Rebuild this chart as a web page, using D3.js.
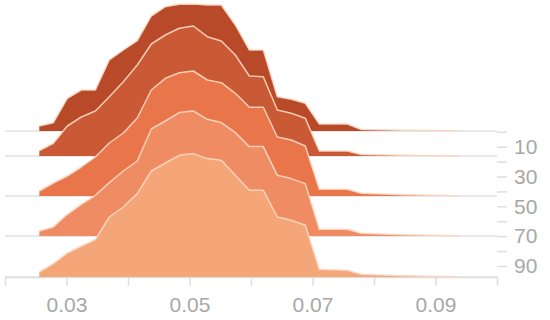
<!DOCTYPE html>
<html>
<head>
<meta charset="utf-8">
<script src="https://cdn.jsdelivr.net/npm/d3@7"></script>
<style>
  html, body { margin: 0; padding: 0; background: #fff; }
  svg { display: block; }
  .axis text { font-family: "Liberation Sans", Arial, Helvetica, sans-serif; font-size: 21px; fill: #a8a8a8; }
  .axis line, .axis path { stroke: #dedede; stroke-width: 1.5px; }
</style>
</head>
<body>
<svg id="chart" width="550" height="320"></svg>
<script>
// ---- data ----
const seriesKeys = ["10", "30", "50", "70", "90"];
const xValues = [0.02558, 0.02786, 0.03013, 0.03241, 0.03469, 0.03696, 0.03924, 0.04151,
  0.04379, 0.04607, 0.04834, 0.05062, 0.05290, 0.05517, 0.05745, 0.05973, 0.06200,
  0.06428, 0.06655, 0.06883, 0.07111, 0.07338, 0.07566, 0.07794, 0.08021, 0.08249,
  0.08476, 0.08704, 0.08932, 0.09159, 0.09387];
const density10 = [0.50, 0.83, 3.27, 4.10, 4.10, 7.10, 8.10, 9.03, 11.50, 12.43, 12.67, 12.70, 12.60, 12.60, 10.60, 8.10, 8.10, 3.43, 3.17, 2.77, 0.70, 0.70, 0.70, 0.15, 0.12, 0.10, 0.08, 0.06, 0.04, 0.02, 0];
const density30 = [0.53, 1.27, 3.00, 3.90, 4.50, 5.93, 7.43, 9.10, 11.20, 12.10, 12.77, 13.00, 11.93, 11.50, 10.10, 8.00, 7.93, 4.60, 4.27, 3.77, 0.50, 0.50, 0.50, 0.15, 0.12, 0.10, 0.08, 0.06, 0.04, 0.02, 0];
const density50 = [0.50, 1.30, 2.00, 2.90, 3.90, 5.30, 6.30, 7.80, 10.60, 11.77, 12.33, 12.50, 11.60, 11.33, 10.27, 8.87, 8.87, 5.90, 5.60, 5.00, 0.67, 0.67, 0.67, 0.27, 0.22, 0.17, 0.13, 0.10, 0.07, 0.04, 0];
const density70 = [0.50, 0.90, 2.17, 3.17, 4.07, 5.34, 6.50, 7.50, 10.70, 11.50, 12.34, 12.50, 11.67, 11.34, 10.34, 8.94, 8.94, 6.07, 5.74, 5.24, 0.67, 0.67, 0.67, 0.27, 0.22, 0.17, 0.13, 0.10, 0.07, 0.04, 0];
const density90 = [0.50, 1.34, 2.40, 3.10, 3.74, 6.00, 7.00, 8.34, 10.60, 11.40, 12.17, 12.34, 11.84, 11.67, 10.17, 8.67, 8.67, 6.00, 5.67, 5.17, 0.77, 0.72, 0.67, 0.27, 0.22, 0.17, 0.13, 0.10, 0.07, 0.04, 0];
const seriesValues = [density10, density30, density50, density70, density90];
const xTickValues = [0.02, 0.03, 0.04, 0.05, 0.06, 0.07, 0.08, 0.09, 0.10];
const xTickLabels = ["0.03", "0.05", "0.07", "0.09"];
const rightTickValues = [0, 10, 20, 30, 40, 50, 60, 70, 80, 90];
const rightTickLabels = ["10", "30", "50", "70", "90"];
const seriesColors = ["#b84a29", "#c95a35", "#e9754b", "#f08c63", "#f4a679"];

// ---- chart ----
const svg = d3.select("#chart");

const x = d3.scaleLinear().domain([0.02, 0.10]).range([5, 497]);
const h = d3.scaleLinear().domain([0, 13]).range([0, 130]);
const baseline = d3.scaleOrdinal().domain(seriesKeys).range([131, 156, 196, 236, 277]);
const yRight = d3.scaleLinear().domain([0, 97.4]).range([131.8, 277]);
const color = d3.scaleOrdinal().domain(seriesKeys).range(seriesColors);

// baselines (grey rule under each ridge)
svg.append("g").selectAll("line")
  .data(seriesKeys)
  .join("line")
  .attr("x1", x(0.02)).attr("x2", x(0.10))
  .attr("y1", d => baseline(d)).attr("y2", d => baseline(d))
  .attr("stroke", "#e2e2e2").attr("stroke-width", 1.5);

// x axis
const xAxis = d3.axisBottom(x)
  .tickValues(xTickValues)
  .tickSize(9)
  .tickSizeOuter(0)
  .tickPadding(11)
  .tickFormat(d => { const s = d3.format(".2f")(d); return xTickLabels.includes(s) ? s : ""; });
svg.append("g").attr("class", "axis").attr("transform", `translate(0,${baseline("90")})`).call(xAxis);

// right axis
const rAxis = d3.axisRight(yRight)
  .tickValues(rightTickValues)
  .tickSize(10)
  .tickPadding(7)
  .tickFormat(d => rightTickLabels.includes(String(d)) ? String(d) : "");
const rg = svg.append("g").attr("class", "axis").attr("transform", `translate(${x(0.10)},0)`).call(rAxis);
rg.select(".domain").remove();

// ridges
const ridges = svg.append("g");
seriesKeys.forEach((key, si) => {
  const vals = seriesValues[si];
  const pts = xValues.map((xv, i) => ({ x: xv, v: vals[i] }));
  const b = baseline(key);
  const area = d3.area().x(d => x(d.x)).y0(b).y1(d => b - h(d.v));
  const line = d3.line().x(d => x(d.x)).y(d => b - h(d.v));
  ridges.append("path").datum(pts)
    .attr("d", area)
    .attr("fill", color(key));
  ridges.append("path").datum(pts)
    .attr("d", line)
    .attr("fill", "none")
    .attr("stroke", "#fcd9c4")
    .attr("stroke-opacity", 0.9)
    .attr("stroke-width", 1.5)
    .attr("stroke-linejoin", "round");
});
</script>
</body>
</html>
